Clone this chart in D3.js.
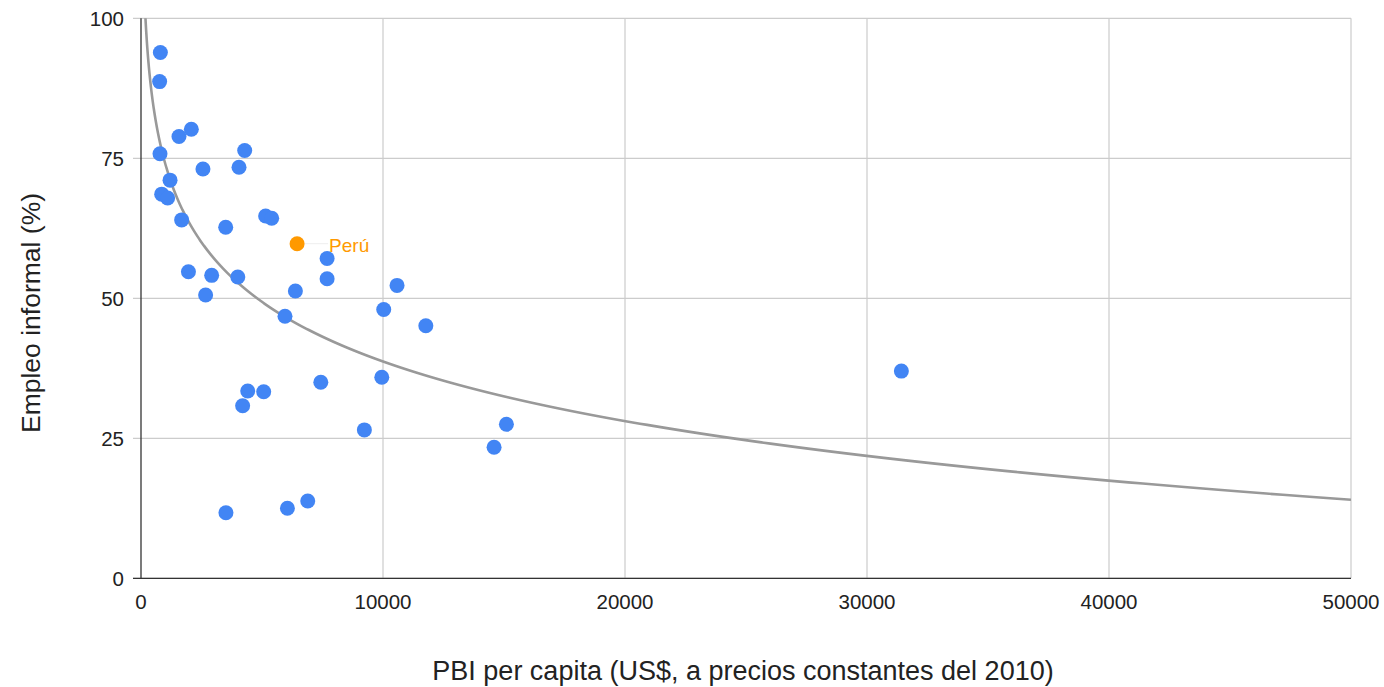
<!DOCTYPE html>
<html><head><meta charset="utf-8">
<script src="https://cdn.jsdelivr.net/npm/d3@7"></script>
<style>html,body{margin:0;padding:0;background:#fff;}svg{display:block;font-family:"Liberation Sans",Arial,sans-serif;}</style>
</head><body>
<svg id="c" width="1384" height="687"></svg>
<script>
// PBI per capita (US$ 2010) and informal employment (%)
const gdpPerCapita = [800,770,1570,2080,785,4285,2560,4050,1200,855,1100,5150,5400,1680,3500,7690,1960,2920,4000,7690,10580,6380,2670,10030,5950,11770,9950,7430,4410,5070,4200,9230,6890,6050,3510,15100,14590,31420];
const informalEmployment = [93.9,88.7,78.9,80.2,75.8,76.4,73.1,73.4,71.1,68.6,67.9,64.7,64.3,64.0,62.7,57.1,54.75,54.1,53.8,53.5,52.3,51.3,50.6,48.0,46.8,45.1,35.9,35.0,33.45,33.3,30.8,26.5,13.8,12.5,11.7,27.5,23.4,37.0];
const highlightLabel = ["Perú"];
const highlightX = [6450];
const highlightY = [59.75];
const xTicks = [0,10000,20000,30000,40000,50000];
const yTicks = [0,25,50,75,100];
const trendCoef = [180.1, -15.35]; // y = a + b*ln(x)

const svg = d3.select("#c");
const L = 141, R = 1351, T = 18.3, B = 578.3;
const x = d3.scaleLinear().domain([0,50000]).range([L,R]);
const y = d3.scaleLinear().domain([0,100]).range([B,T]);

// gridlines
svg.append("g").selectAll("line").data(yTicks).join("line")
  .attr("x1",L-8).attr("x2",R).attr("y1",d=>y(d)).attr("y2",d=>y(d))
  .attr("stroke","#cccccc").attr("stroke-width",1.2);
svg.append("g").selectAll("line").data(xTicks.filter(d=>d>0)).join("line")
  .attr("x1",d=>x(d)).attr("x2",d=>x(d)).attr("y1",T).attr("y2",B)
  .attr("stroke","#cccccc").attr("stroke-width",1.2);

// axes lines
svg.append("line").attr("x1",L).attr("x2",L).attr("y1",T).attr("y2",B).attr("stroke","#333").attr("stroke-width",1.3);
svg.append("line").attr("x1",L-8).attr("x2",R).attr("y1",B).attr("y2",B).attr("stroke","#333").attr("stroke-width",1.3);

// tick labels
svg.append("g").selectAll("text").data(yTicks).join("text")
  .attr("x",124).attr("y",d=>y(d)+7.5).attr("text-anchor","end")
  .attr("font-size",20.5).attr("fill","#222").text(d=>d);
svg.append("g").selectAll("text").data(xTicks).join("text")
  .attr("x",d=>x(d)).attr("y",609).attr("text-anchor","middle")
  .attr("font-size",20.5).attr("fill","#222").text(d=>d);

// axis titles
svg.append("text").attr("transform","translate(40,313) rotate(-90)")
  .attr("text-anchor","middle").attr("font-size",26.5).attr("fill","#222").text("Empleo informal (%)");
svg.append("text").attr("x",743).attr("y",680).attr("text-anchor","middle")
  .attr("font-size",27).attr("fill","#222").text("PBI per capita (US$, a precios constantes del 2010)");

// trendline
const xs = d3.range(0, 401).map(i => Math.exp(Math.log(150) + i*(Math.log(50000)-Math.log(150))/400));
const pts = xs.map(v => [v, trendCoef[0] + trendCoef[1]*Math.log(v)]).filter(p => p[1] <= 100.5);
svg.append("defs").append("clipPath").attr("id","clip").append("rect")
  .attr("x",L).attr("y",T).attr("width",R-L).attr("height",B-T);
svg.append("path").attr("clip-path","url(#clip)")
  .attr("d", d3.line().x(d=>x(d[0])).y(d=>y(d[1]))(pts))
  .attr("fill","none").attr("stroke","#999999").attr("stroke-width",2.6);

// points
const data = gdpPerCapita.map((g,i)=>({g, e: informalEmployment[i]}));
svg.append("g").selectAll("circle").data(data).join("circle")
  .attr("cx",d=>x(d.g)).attr("cy",d=>y(d.e)).attr("r",7.5)
  .attr("fill","#4285f4");

// highlight
const hl = highlightLabel.map((l,i)=>({l, g: highlightX[i], e: highlightY[i]}));
const hg = svg.append("g");
hg.selectAll("line").data(hl).join("line")
  .attr("x1",d=>x(d.g)+8).attr("x2",d=>x(d.g)+31).attr("y1",d=>y(d.e)).attr("y2",d=>y(d.e))
  .attr("stroke","#eeeeee").attr("stroke-width",1);
hg.selectAll("circle").data(hl).join("circle")
  .attr("cx",d=>x(d.g)).attr("cy",d=>y(d.e)).attr("r",7.5).attr("fill","#ff9900");
hg.selectAll("text").data(hl).join("text")
  .attr("x",d=>x(d.g)+32).attr("y",d=>y(d.e)+8).attr("font-size",19).attr("fill","#ff9900").text(d=>d.l);
</script>
</body></html>
